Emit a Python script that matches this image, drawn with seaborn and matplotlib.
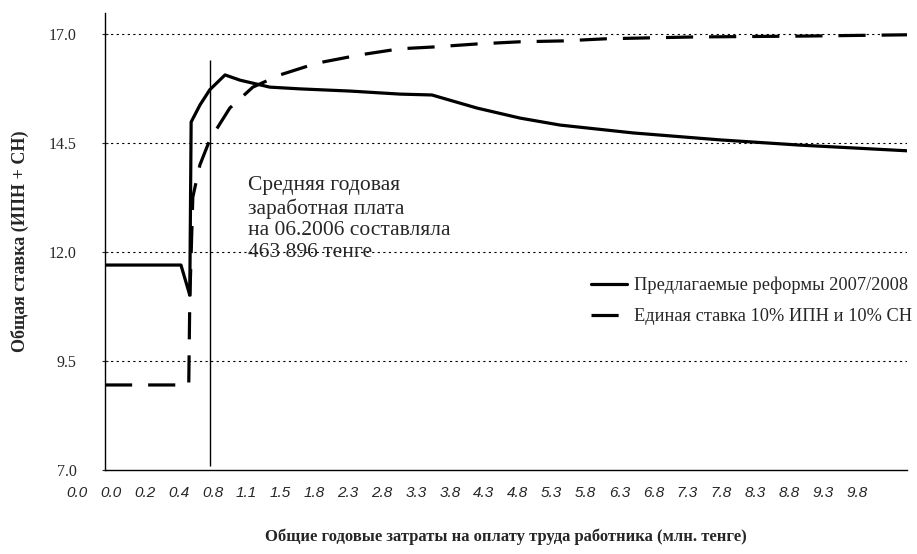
"""Общая ставка ИПН + СН: предлагаемые реформы против единой ставки"""
import pandas as pd
import seaborn as sns
import matplotlib
matplotlib.use("Agg")
import matplotlib.pyplot as plt

# category positions along the x axis (one unit = one tick label)
reform_x = [0.83, 3.07, 3.33, 3.37, 3.63, 3.92, 4.37, 4.81, 5.69, 6.58,
            8.05, 9.53, 10.47, 11.80, 13.07, 14.25, 16.40, 18.97, 21.33, 24.48]
reform_y = [11.70, 11.70, 11.01, 14.98, 15.37, 15.72, 16.06, 15.94, 15.78,
            15.74, 15.69, 15.62, 15.60, 15.30, 15.07, 14.91, 14.73, 14.57,
            14.45, 14.32]

flat_x = [0.83, 3.30, 3.33, 3.42, 3.63, 3.92, 4.51, 5.19, 5.99, 7.08, 8.35,
          9.53, 10.50, 11.80, 13.07, 14.34, 15.63, 16.90, 18.17, 21.33, 24.48]
flat_y = [8.95, 8.95, 10.90, 13.26, 14.00, 14.57, 15.30, 15.78, 16.06, 16.33,
          16.52, 16.66, 16.70, 16.77, 16.82, 16.84, 16.89, 16.91, 16.93,
          16.95, 16.98]

xtick_labels = ["0.0", "0.0", "0.2", "0.4", "0.8", "1.1", "1.5", "1.8", "2.3",
                "2.8", "3.3", "3.8", "4.3", "4.8", "5.3", "5.8", "6.3", "6.8",
                "7.3", "7.8", "8.3", "8.8", "9.3", "9.8"]
yticks = [7.0, 9.5, 12.0, 14.5, 17.0]
avg_wage_x = 3.92  # 463 896 тенге

lab_reform = "Предлагаемые реформы 2007/2008"
lab_flat = "Единая ставка 10% ИПН и 10% СН"

df = pd.concat([
    pd.DataFrame({"x": reform_x, "y": reform_y, "series": lab_reform}),
    pd.DataFrame({"x": flat_x, "y": flat_y, "series": lab_flat}),
])

sns.set_style("white")
plt.rcParams["font.family"] = ["Liberation Serif", "DejaVu Serif"]

fig = plt.figure(figsize=(9.17, 5.54), dpi=100)
ax = fig.add_axes([105 / 917, 1 - 470 / 554, 802 / 917, 457 / 554])

sns.lineplot(data=df[df["series"] == lab_reform], x="x", y="y",
             color="black", lw=2.3, estimator=None, sort=False,
             label=lab_reform, ax=ax)
sns.lineplot(data=df[df["series"] == lab_flat], x="x", y="y",
             color="black", lw=2.3, estimator=None, sort=False,
             label=lab_flat, ax=ax)
ax.lines[1].set_linestyle((0, (8.5, 5)))

# average wage marker
ax.vlines(avg_wage_x, 7.1, 16.4, color="black", lw=1.0)

# dotted gridlines
for yv in yticks[1:]:
    ax.axhline(yv, color="black", lw=0.8, ls=(0, (2, 3)), zorder=0)

ax.set_xlim(0.83, 24.48)
ax.set_ylim(7.0, 17.48)
ax.set_yticks(yticks)
ax.set_yticklabels(["%.1f" % v for v in yticks], fontsize=11.5)
ax.tick_params(axis="y", direction="inout", length=5, width=0.8, pad=18,
               left=True)
ax.set_xticks([])
for i, lab in enumerate(xtick_labels):
    ax.text(i, -0.035, lab, transform=ax.get_xaxis_transform(),
            ha="center", va="top", fontsize=11, style="italic",
            family="Liberation Sans", clip_on=False)

sns.despine(ax=ax)
for side in ["left", "bottom"]:
    ax.spines[side].set_color("black")
    ax.spines[side].set_linewidth(1.0)

ax.set_xlabel("Общие годовые затраты на оплату труда работника (млн. тенге)",
              fontsize=12, fontweight="bold")
ax.xaxis.set_label_coords(0.5, -0.128)
ax.set_ylabel("Общая ставка (ИПН + СН)", fontsize=13, fontweight="bold")
ax.yaxis.set_label_coords(-0.095, 0.5)

fig.text(248 / 917, 1 - 176 / 554,
         "Средняя годовая\nзаработная плата\nна 06.2006 составляла\n"
         "463 896 тенге",
         ha="left", va="top", fontsize=15.5, linespacing=1.2)

ax.legend(loc="upper left", bbox_to_anchor=(591 / 917, 1 - 277 / 554),
          bbox_transform=fig.transFigure, frameon=False, fontsize=13.2,
          handlelength=1.95, handletextpad=0.4, labelspacing=0.75,
          borderpad=0, borderaxespad=0)

fig.savefig("out.png", dpi=100)
